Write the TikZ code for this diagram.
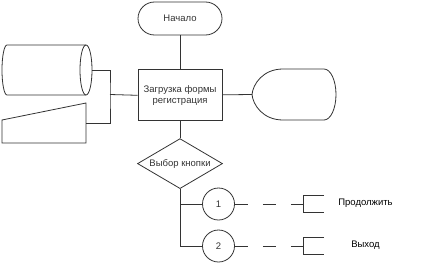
\documentclass[tikz,border=0pt]{standalone}
\usepackage{fontspec}
\setmainfont{Liberation Sans}
\usetikzlibrary{positioning,shapes.geometric,calc}

\begin{document}
\begin{tikzpicture}[x=1pt, y=-1pt,
  every node/.style={font=\fontsize{9.5}{11}\selectfont},
  ln/.style={line width=0.8pt, black!80},
  term/.style={ln, draw, rounded corners=16.5pt, minimum width=84pt, minimum height=33pt, inner sep=0pt},
  proc/.style={ln, draw, minimum width=84pt, minimum height=51pt, align=center, inner sep=0pt},
  dec/.style={ln, draw, diamond, aspect=1.7, minimum width=85pt, minimum height=50pt, inner sep=0pt},
  conn/.style={ln, draw, circle, minimum size=32pt, inner sep=0pt},
  ghost/.style={inner sep=0pt, outer sep=0pt},
  dsh/.style={line width=0.9pt, black!80, dash pattern=on 13pt off 15pt}
]
\useasboundingbox (0,0) rectangle (433,265);

% main column
\node[term] (start) at (180,18.5) {Начало};
\node[proc, below=34pt of start] (load) {Загрузка формы\\регистрация};
\node[dec, below=17pt of load] (choice) {Выбор кнопки};

% stored data and manual input
\node[ghost, minimum width=90pt, minimum height=50pt] (store) at (47,70) {};
\draw[ln] (7,45) -- (86,45) (7,95) -- (86,95)
  (7,45) arc[start angle=90, end angle=270, x radius=5pt, y radius=25pt];
\draw[ln] (86,70) ellipse[x radius=6pt, y radius=25pt];
\node[ghost, minimum width=84pt, minimum height=40pt] (inp) at (44,123) {};
\draw[ln] (inp.north east) -- (inp.south east) -- (inp.south west)
  -- ($(inp.south west)+(0,-23)$) -- cycle;

% display
\node[ghost, minimum width=84pt, minimum height=51pt] (disp) at (294,94.5) {};
\draw[ln] (disp.west) .. controls (253,84) and (263,69) .. (283,69) -- (324,69)
  arc[start angle=90, end angle=-90, x radius=12pt, y radius=25.5pt]
  -- (283,120) .. controls (263,120) and (253,105) .. (disp.west);

% connectors
\node[conn] (c1) at (218.5,204) {1};
\node[conn] (c2) at (218.5,246) {2};
\node[ghost, minimum width=21pt, minimum height=17pt] (a1) at (313.5,203.5) {};
\node[ghost, minimum width=21pt, minimum height=17pt] (a2) at (313.5,245.5) {};
\draw[ln] (a1.north east) -- (a1.north west) -- (a1.south west) -- (a1.south east);
\draw[ln] (a2.north east) -- (a2.north west) -- (a2.south west) -- (a2.south east);
\node (t1) at (365.5,203.5) {Продолжить};
\node (t2) at (365.5,245.5) {Выход};

\coordinate (jn) at (110,94.5);
\coordinate (b1) at (180,204);
\coordinate (b2) at (180,246);
\draw[ln] (start) -- (load);
\draw[ln] (load) -- (choice);
\draw[ln] (load) -- (disp.west);
\draw[ln] (store.east) -| (jn) |- (inp.east);
\draw[ln] (jn) -- (load.west);
\draw[ln] (choice.south) -- (b2) -- (c2);
\draw[ln] (b1) -- (c1);
\draw[dsh] (c1) -- (a1.west |- c1);
\draw[dsh] (c2) -- (a2.west |- c2);
\end{tikzpicture}
\end{document}
